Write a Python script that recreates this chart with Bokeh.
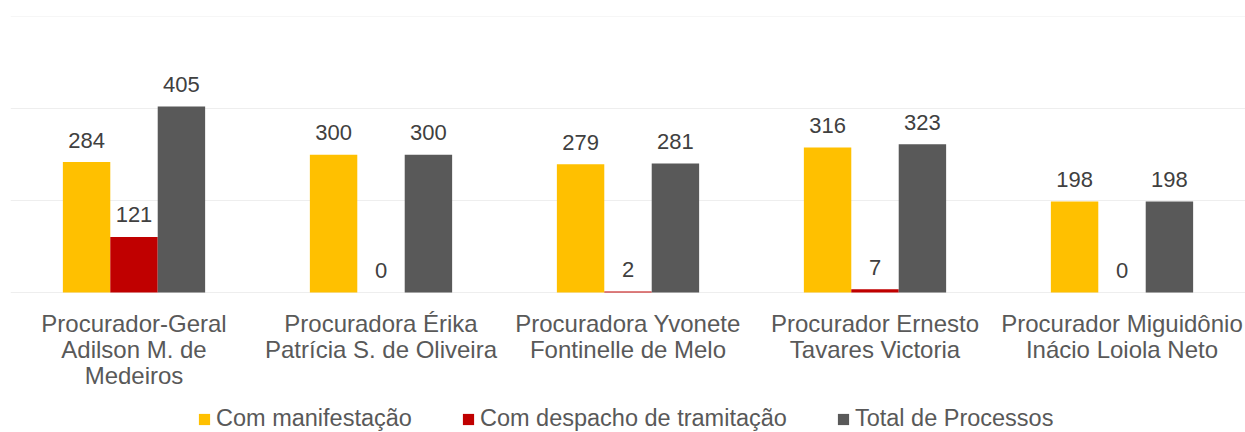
from bokeh.plotting import figure
from bokeh.models import ColumnDataSource, FactorRange, Range1d, Legend, LegendItem, FixedTicker
from bokeh.transform import dodge
from bokeh.core.properties import value
from bokeh.embed import file_html
from bokeh.resources import INLINE

categories = [
    "Procurador-Geral\nAdilson M. de\nMedeiros",
    "Procuradora Érika\nPatrícia S. de Oliveira",
    "Procuradora Yvonete\nFontinelle de Melo",
    "Procurador Ernesto\nTavares Victoria",
    "Procurador Miguidônio\nInácio Loiola Neto",
]
series_names = ["Com manifestação", "Com despacho de tramitação", "Total de Processos"]
com_manifestacao = [284, 300, 279, 316, 198]
com_despacho = [121, 0, 2, 7, 0]
total_processos = [405, 300, 281, 323, 198]
colors = ["#FFC000", "#C00000", "#595959"]
y_ticks = [0, 200, 400, 600]

FONT = "Liberation Sans"

src = ColumnDataSource(dict(
    cat=categories,
    zero=[0] * len(categories),
    s0=com_manifestacao, s1=com_despacho, s2=total_processos,
    l0=[str(v) for v in com_manifestacao],
    l1=[str(v) for v in com_despacho],
    l2=[str(v) for v in total_processos],
))

# frame spans the whole plot height; value 0 sits 140 px above the bottom
FRAME_H = 416
PLOT_PX = 276
Y_TOP = 601
y_bottom = -Y_TOP * (FRAME_H - PLOT_PX) / PLOT_PX

p = figure(
    x_range=FactorRange(factors=categories, range_padding=0),
    y_range=Range1d(y_bottom, Y_TOP),
    frame_width=1235, frame_height=FRAME_H,
    x_axis_location=None, y_axis_location=None,
    output_backend="svg", toolbar_location=None,
    min_border_left=10, min_border_right=0, min_border_top=16, min_border_bottom=0,
)
p.outline_line_color = None
p.background_fill_color = "white"

bw = 0.192
offsets = [-bw, 0.0, bw]
renderers = []
for i, (off, col) in enumerate(zip(offsets, colors)):
    r = p.vbar(x=dodge("cat", off, range=p.x_range), top=f"s{i}", bottom=0, width=bw,
               source=src, fill_color=col, line_color=None)
    renderers.append(r)
    p.text(x=dodge("cat", off, range=p.x_range), y=f"s{i}", text=f"l{i}", source=src,
           text_align="center", text_baseline="alphabetic", y_offset=-22,
           text_font=value(FONT), text_font_size="22px", text_color="#404040")

# category labels under the baseline, positioned through the categorical scale
p.text(x="cat", y="zero", text="cat", source=src,
       text_align="center", text_baseline="top", y_offset=17,
       text_font=value(FONT), text_font_size="24px", text_line_height=0.97,
       text_color="#595959")

p.ygrid.ticker = FixedTicker(ticks=y_ticks)
p.ygrid.grid_line_color = "#EEEEEE"
p.ygrid.grid_line_width = 1
p.xgrid.visible = False

legend = Legend(
    items=[LegendItem(label=n, renderers=[r]) for n, r in zip(series_names, renderers)],
    orientation="horizontal", location=(187, 0),
    label_text_font=FONT, label_text_font_size="23.5px", label_text_color="#595959",
    glyph_width=14, glyph_height=14, label_standoff=5, spacing=49,
    border_line_color=None, background_fill_alpha=0, padding=0, margin=0,
)
p.add_layout(legend, "center")

open("out.html", "w").write(file_html(p, INLINE))
